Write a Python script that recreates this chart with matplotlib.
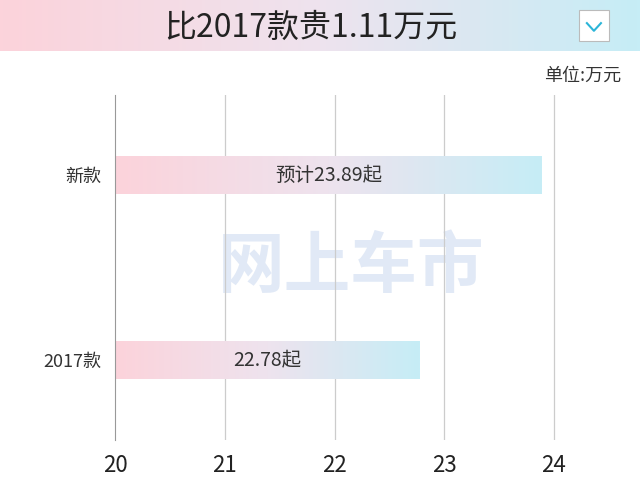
import numpy as np
import matplotlib
matplotlib.use("Agg")
import matplotlib.pyplot as plt
from matplotlib.colors import LinearSegmentedColormap
plt.rcParams["font.family"] = ["Noto Sans CJK SC", "DejaVu Sans"]

categories = ["2017款", "新款"]
values = [22.78, 23.89]
labels = ["22.78起", "预计23.89起"]
xticks = [20, 21, 22, 23, 24]
ypos = [0.232, 0.768]

cmap = LinearSegmentedColormap.from_list("g", ["#fcd3db", "#eee3ee", "#c6edf6"])
fig = plt.figure(figsize=(6.4, 4.8), dpi=100)

# header band
hd = fig.add_axes([0, 0.893, 1, 0.107])
hd.imshow(np.linspace(0, 1, 200)[None, :], aspect="auto", cmap=cmap, extent=(0, 1, 0, 1))
hd.set_xlim(0, 1); hd.set_ylim(0, 1); hd.axis("off")
hd.text(0.485, 0.45, "比2017款贵1.11万元", ha="center", va="center", fontsize=23, color="#222222")
hd.add_patch(plt.Rectangle((0.905, 0.2), 0.047, 0.6, fc="white", ec="#bbbbbb", lw=0.8))
hd.plot([0.917, 0.928, 0.939], [0.55, 0.4, 0.55], color="#2bb5d8", lw=1.5)

fig.text(0.97, 0.842, "单位:万元", ha="right", va="center", fontsize=13, color="#333333")

ax = fig.add_axes([0.18, 0.083, 0.797, 0.719])
ax.set_xlim(20, 24.65); ax.set_ylim(0, 1)
for t in xticks[1:]:
    ax.axvline(t, color="#cccccc", lw=0.9)
h = 0.11
for y, v, lab in zip(ypos, values, labels):
    ax.imshow(np.linspace(0, 1, 200)[None, :], aspect="auto", cmap=cmap,
              extent=(20, v, y - h / 2, y + h / 2), zorder=2)
    ax.text((20 + v) / 2, y, lab, ha="center", va="center", fontsize=14, color="#333333", zorder=3)
ax.text(22.15, 0.5, "网上车市", ha="center", va="center", fontsize=48, fontweight="bold",
        color="#3a6fc4", alpha=0.15, zorder=1)
ax.set_xticks(xticks)
ax.set_xticklabels([str(t) for t in xticks], fontsize=16, color="#222222")
ax.set_yticks(ypos)
ax.set_yticklabels(categories, fontsize=13, color="#333333")
ax.tick_params(length=0, pad=10)
for s in ["top", "right", "bottom"]:
    ax.spines[s].set_visible(False)
ax.spines["left"].set_color("#999999")
fig.savefig("out.png", dpi=100)
